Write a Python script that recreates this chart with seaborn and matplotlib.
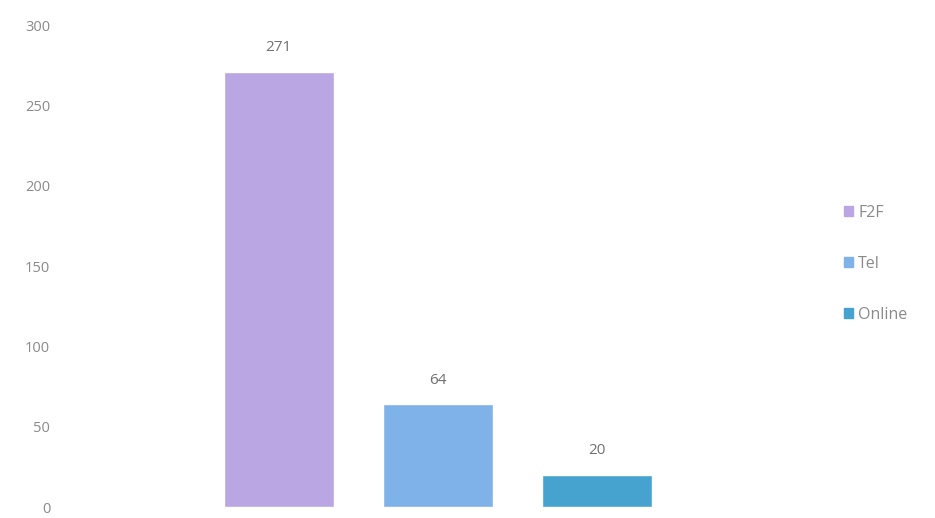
import pandas as pd
import matplotlib.pyplot as plt
import seaborn as sns

# data
modes = ["F2F", "Tel", "Online"]
counts = [271, 64, 20]
colors = ["#b9a6e2", "#7fb2e8", "#46a3cf"]

df = pd.DataFrame({"mode": modes, "count": counts})

sns.set_theme(style="white")
plt.rcParams["font.family"] = ["Open Sans", "DejaVu Sans"]

fig = plt.figure(figsize=(9.35, 5.18), dpi=100)
ax = fig.add_axes([0.07, 0.021, 0.797, 0.930])

sns.barplot(data=df, x="mode", y="count", hue="mode", palette=colors,
            width=0.69, saturation=1, legend=False, ax=ax)

ax.set_ylim(0, 300)
ax.set_xlim(-1.34, 3.34)
ax.set_yticks(range(0, 301, 50))
ax.tick_params(axis="y", labelsize=10.5, labelcolor="#8a8a8a", pad=11, length=0)
ax.set_xticks([])
ax.set_xlabel("")
ax.set_ylabel("")
sns.despine(ax=ax, left=True, bottom=True)

for cont in ax.containers:
    ax.bar_label(cont, padding=12, fontsize=11, color="#707070")

handles = [plt.Rectangle((0, 0), 1, 1, color=c) for c in colors]
ax.legend(handles, modes, loc="center left", bbox_to_anchor=(1.025, 0.505),
          frameon=False, handlelength=0.6, handleheight=0.6, handletextpad=0.3,
          labelspacing=2.2, fontsize=11.5, labelcolor="#8a8a8a")

fig.savefig("out.png", dpi=100)
